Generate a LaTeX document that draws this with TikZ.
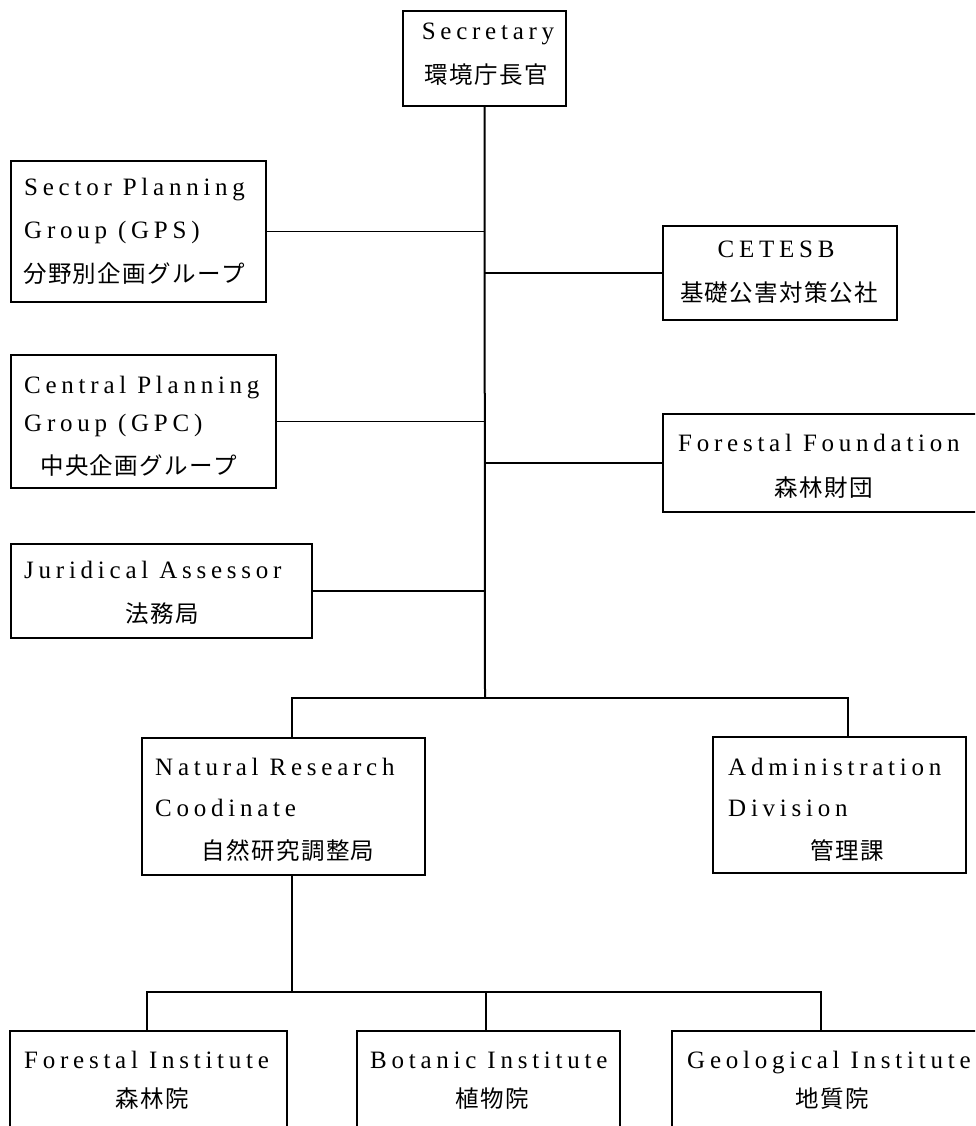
\documentclass[tikz,border=0pt]{standalone}
\usepackage{fontspec}
\setmainfont{Liberation Serif}
\newfontfamily\latf[LetterSpace=19]{Liberation Serif}
\newfontfamily\cjkf[LetterSpace=6]{Noto Sans CJK JP}
\begin{document}
\begin{tikzpicture}[x=1pt,y=-1pt,
  box/.style={draw,line width=1.3pt,inner sep=0pt},
  ln/.style={line width=1.4pt},
  spine/.style={line width=2pt},
  lt/.style={inner sep=0pt,anchor=base west,font=\latf\fontsize{25}{25}\selectfont},
  ltc/.style={lt,anchor=base},
  jt/.style={inner sep=0pt,anchor=base,font=\cjkf\fontsize{23.5}{24}\selectfont},
  jtw/.style={jt,anchor=base west}]
\useasboundingbox (0,0) rectangle (975,1126);
\clip (0,0) rectangle (975,1126);
\fill[white] (0,0) rectangle (975,1126);
% boxes
\node[box,minimum width=163pt,minimum height=95pt]  (sec) at (484.5,58.5) {};
\node[box,minimum width=255pt,minimum height=141pt] (gps) at (138.5,231.5) {};
\node[box,minimum width=234pt,minimum height=94pt]  (cet) at (780,273) {};
\node[box,minimum width=265pt,minimum height=133pt] (gpc) at (143.5,421.5) {};
\node[box,minimum width=327pt,minimum height=98pt]  (ff)  at (826.5,463) {};
\node[box,minimum width=301pt,minimum height=94pt]  (jur) at (161.5,591) {};
\node[box,minimum width=283pt,minimum height=137pt] (nr)  at (283.5,806.5) {};
\node[box,minimum width=253pt,minimum height=136pt] (adm) at (839.5,805) {};
\node[box,minimum width=277pt,minimum height=129pt] (fi)  at (148.5,1095.5) {};
\node[box,minimum width=263pt,minimum height=129pt] (bi)  at (488.5,1095.5) {};
\node[box,minimum width=318pt,minimum height=129pt] (gi)  at (831,1095.5) {};
% junctions
\coordinate (t1) at (485,698);
\coordinate (nrj) at (292,698);
\coordinate (admj) at (848,698);
\coordinate (b2) at (292,992);
\coordinate (fij) at (147,992);
\coordinate (bij) at (486,992);
\coordinate (gij) at (821,992);
% connectors
\draw[spine] (sec.south) -- (t1);
\draw[ln] (gps.east) -- (gps.east -| t1);
\draw[ln] (cet.west) -- (cet.west -| t1);
\draw[ln] (gpc.east) -- (gpc.east -| t1);
\draw[ln] (ff.west) -- (ff.west -| t1);
\draw[ln] (jur.east) -- (jur.east -| t1);
\draw[ln] (nr.north -| nrj) -- (nrj) -- (admj) -- (adm.north -| admj);
\draw[spine] (nr.south -| b2) -- (b2);
\draw[ln] (fi.north -| fij) -- (fij) -- (gij) -- (gi.north -| gij);
\draw[ln] (bij) -- (bi.north -| bij);
% texts
\node[ltc] (sec1) at (488,40) {Secretary};
\node[jt]  (sec2) at (486,84) {環境庁長官};
\node[lt]  (gps1) at (24,195) {Sector Planning};
\node[lt]  (gps2) at (24,238) {Group (GPS)};
\node[jtw] (gps3) at (23,282) {分野別企画グループ};
\node[ltc] (cet1) at (776,257) {CETESB};
\node[jt]  (cet2) at (779,301) {基礎公害対策公社};
\node[lt]  (gpc1) at (24,393) {Central Planning};
\node[lt]  (gpc2) at (24,431) {Group (GPC)};
\node[jtw] (gpc3) at (40,474) {中央企画グループ};
\node[lt]  (ff1)  at (678,451) {Forestal Foundation};
\node[jt]  (ff2)  at (824,496) {森林財団};
\node[lt]  (jur1) at (24,578) {Juridical Assessor};
\node[jt]  (jur2) at (162,622) {法務局};
\node[lt]  (nr1)  at (155,775) {Natural Research};
\node[lt]  (nr2)  at (155,816) {Coodinate};
\node[jt]  (nr3)  at (288,859) {自然研究調整局};
\node[lt]  (adm1) at (728,775) {Administration};
\node[lt]  (adm2) at (728,816) {Division};
\node[jt]  (adm3) at (847,859) {管理課};
\node[lt]  (fi1)  at (24,1068) {Forestal Institute};
\node[jt]  (fi2)  at (152,1107) {森林院};
\node[lt]  (bi1)  at (370,1068) {Botanic Institute};
\node[jt]  (bi2)  at (492,1107) {植物院};
\node[lt]  (gi1)  at (687,1068) {Geological Institute};
\node[jt]  (gi2)  at (832,1107) {地質院};
\end{tikzpicture}
\end{document}
